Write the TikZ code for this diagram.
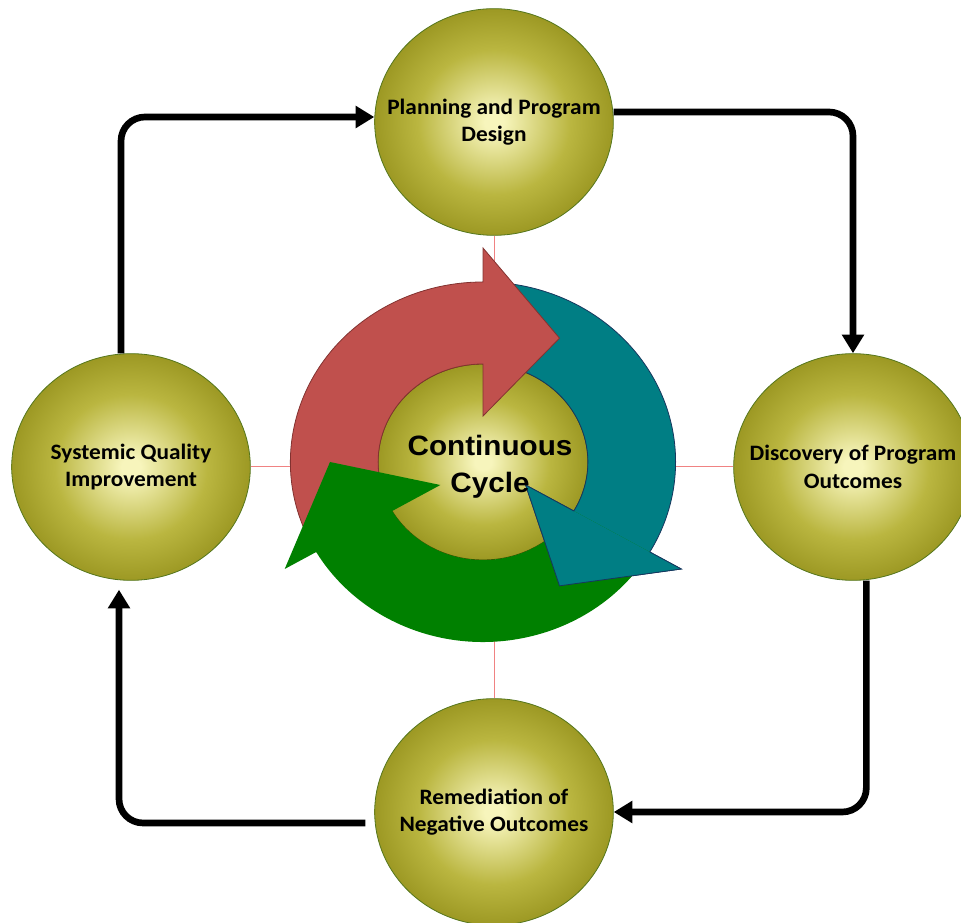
\documentclass[tikz,border=0pt]{standalone}
\usepackage{fontspec}
\setmainfont{Carlito}[FakeStretch=1.06]
\newfontfamily\hubfont{Liberation Sans}[FakeStretch=1.06]
\usepackage{xcolor}
\usetikzlibrary{shapes.geometric,arrows.meta}

\definecolor{olivelight}{RGB}{247,245,188}
\definecolor{olivemid}{RGB}{186,182,64}
\definecolor{olivedark}{RGB}{124,120,4}
\definecolor{oliveline}{RGB}{84,118,28}
\definecolor{redfill}{RGB}{192,80,77}
\definecolor{redline}{RGB}{130,50,48}
\definecolor{tealfill}{RGB}{0,126,132}
\definecolor{tealline}{RGB}{23,55,94}
\definecolor{greenfill}{RGB}{0,128,0}
\definecolor{spokecol}{RGB}{240,130,130}

\pgfdeclareradialshading{oliveball}{\pgfpoint{0bp}{0bp}}{color(0bp)=(olivelight); color(2bp)=(olivelight); color(16bp)=(olivemid); color(35bp)=(olivedark); color(50bp)=(olivedark)}

\tikzset{
  stage/.style={ellipse, draw=oliveline, line width=0.6pt, shading=oliveball,
    minimum width=179pt, minimum height=170pt, inner sep=0pt},
  stagetext/.style={align=center, font=\bfseries\fontsize{16.5}{20.5}\selectfont},
  hub/.style={ellipse, draw=olivedark!60!black, line width=0.6pt, shading=oliveball,
    minimum width=157.5pt, minimum height=147pt, inner sep=0pt},
  hubtext/.style={align=center, font=\hubfont\bfseries\fontsize{21}{27.5}\selectfont},
  flow/.style={line width=5pt, rounded corners=18pt, -{Triangle[length=14pt,width=16pt]}},
  spoke/.style={draw=spokecol, line width=0.75pt},
  redarc/.style={fill=redfill, draw=redline, line width=0.6pt},
  tealarc/.style={fill=tealfill, draw=tealline, line width=0.6pt},
  greenarc/.style={fill=greenfill}
}

\begin{document}
\begin{tikzpicture}[x=0.75pt, y=0.75pt]
 \useasboundingbox (0,0) rectangle (961,922);
 \clip (0,0) rectangle (961,922);

 % the four stages
 \node[stage] (plan)  at (494,800) {};
 \node[stage] (disc)  at (853,455) {};
 \node[stage] (remed) at (494,110) {};
 \node[stage] (sqi)   at (131,455) {};
 \node[stagetext] (plantext)  at (plan)  {Planning and Program\\Design};
 \node[stagetext] (disctext)  at (disc)  {Discovery of Program\\Outcomes};
 \node[stagetext] (remedtext) at (remed) {Remediation of\\Negative Outcomes};
 \node[stagetext] (sqitext)   at (sqi)   {Systemic Quality\\Improvement};

 % thin cross behind the cycle
 \draw[spoke] (plan) -- (remed);
 \draw[spoke] (sqi) -- (disc);

 % the loop round the stages
 \draw[flow] ([xshift=-7.5pt]sqi.north) |- ([yshift=3.75pt]plan.west);
 \draw[flow] ([yshift=7.5pt]plan.east) -| (disc.north);
 \draw[flow] ([xshift=10pt]disc.south) |- (remed.east);
 \draw[flow, shorten <=6.75pt, shorten >=6.75pt] ([yshift=-8.25pt]remed.west) -| ([xshift=-9pt]sqi.south);

 % continuous cycle in the middle
 \node[hub] (cycle) at (483,460) {};
 \begin{scope}[shift={(483,460)}, xscale=1.07]
  \filldraw[tealarc] (90:180) arc[start angle=90, end angle=-30, radius=180] -- (-30:214) -- (-60:143) -- (-30:46) -- (-30:98) arc[start angle=-30, end angle=90, radius=98] -- cycle;
  \filldraw[redarc] (210:180) arc[start angle=210, end angle=90, radius=180] -- (90:214) -- (60:143) -- (90:46) -- (90:98) arc[start angle=90, end angle=210, radius=98] -- cycle;
  \fill[greenarc] (-30:180) arc[start angle=-30, end angle=-150, radius=180] -- (-150:214) -- (-180:143) -- (-150:46) -- (-150:98) arc[start angle=-150, end angle=-30, radius=98] -- cycle;
  % teal head lies over the green tail
  \filldraw[tealarc] (-30:180) -- (-30:214) -- (-60:143) -- (-30:46) -- (-30:98);
 \end{scope}
 \node[hubtext] (cyclelabel) at (490,455) {Continuous\\Cycle};
\end{tikzpicture}
\end{document}
